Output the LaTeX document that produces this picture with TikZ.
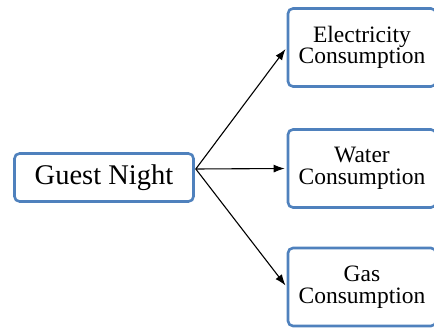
\documentclass[tikz,border=0pt]{standalone}
\usepackage{fontspec}
\setmainfont{Liberation Serif}
\usetikzlibrary{arrows.meta}
\definecolor{boxblue}{RGB}{79,129,189}
\newcommand\usagefont{\fontsize{23.5}{21.5}\selectfont}

\begin{document}
\begin{tikzpicture}[x=1pt,y=-1pt,
  box/.style={draw=boxblue, line width=2.6pt, rounded corners=5pt, fill=white, inner sep=0pt, align=center},
  usage/.style={box, minimum width=148pt, minimum height=78pt, font=\usagefont},
  link/.style={-{Latex[length=11pt,width=8pt]}, line width=1.1pt, shorten >=2pt}]

\useasboundingbox (0,0) rectangle (434,328);

\node [box, minimum width=179pt, minimum height=48pt, font=\fontsize{28.5}{30}\selectfont] (guest) at (104,177.5) {Guest Night};
\coordinate (fork) at ([xshift=1pt,yshift=8.5pt]guest.east);

\node [usage] (elec) at (362,47.5) {Electricity\\Consumption};
\node [usage] (water) at (362,168.5) {Water\\Consumption};
\node [usage] (gas) at (362,287) {Gas\\Consumption};

\draw [link] (fork) -- (elec.west);
\draw [link] (fork) -- (water.west);
\draw [link] (fork) -- (gas.west);

\end{tikzpicture}
\end{document}
